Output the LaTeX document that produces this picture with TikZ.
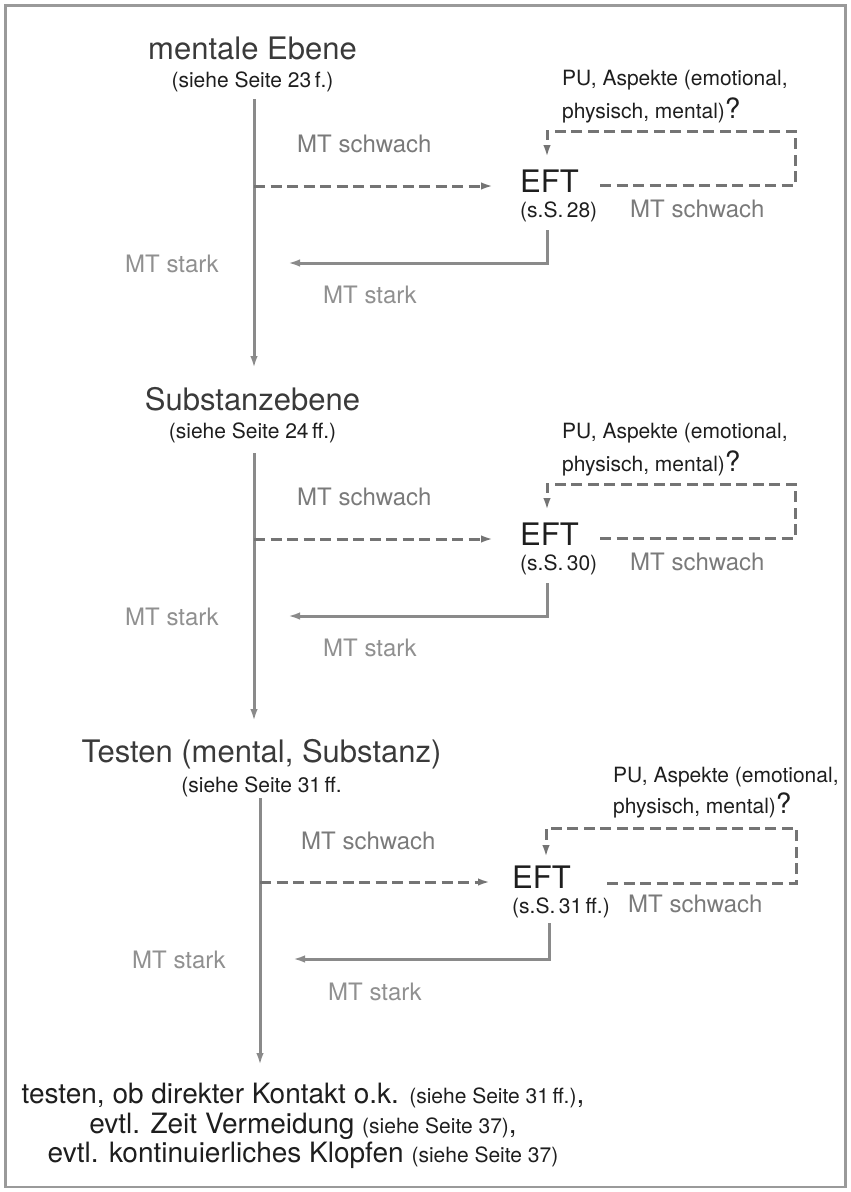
\documentclass[tikz,border=0pt]{standalone}
\usepackage{fontspec}
\setmainfont{TeX Gyre Heros}
\usetikzlibrary{arrows.meta}
\definecolor{headc}{HTML}{3A3A3A}
\definecolor{txtc}{HTML}{1E1E1E}
\definecolor{weakc}{HTML}{7A7A7A}
\definecolor{strongc}{HTML}{909090}
\definecolor{linec}{HTML}{8A8A8A}
\definecolor{dashc}{HTML}{747474}
\definecolor{framec}{HTML}{9A9A9A}
\newcommand{\bigq}{{\fontsize{28}{30}\selectfont ?}}
\newcommand{\refsize}{\fontsize{21}{24}\selectfont}
\tikzset{
  head/.style={anchor=base,inner sep=0pt,text=headc,font=\fontsize{31}{36}\selectfont},
  subref/.style={anchor=base,inner sep=0pt,text=txtc,font=\fontsize{21}{24}\selectfont},
  eftnode/.style={anchor=base west,inner sep=0pt,text=txtc,font=\fontsize{31}{36}\selectfont},
  eftref/.style={anchor=base west,inner sep=0pt,text=txtc,font=\fontsize{21}{24}\selectfont},
  weak/.style={anchor=base west,inner sep=0pt,text=weakc,font=\fontsize{24}{28}\selectfont},
  strong/.style={anchor=base west,inner sep=0pt,text=strongc,font=\fontsize{24}{28}\selectfont},
  note/.style={anchor=base west,inner sep=0pt,text=txtc,font=\fontsize{21}{24}\selectfont},
  final/.style={anchor=base,inner sep=0pt,text=txtc,font=\fontsize{28}{32}\selectfont},
  flow/.style={draw=linec,line width=3pt},
  loopline/.style={draw=dashc,line width=3pt,dash pattern=on 11pt off 5.5pt},
  tip/.style={-{Latex[length=12pt,width=7.5pt]}},
}
\begin{document}
\begin{tikzpicture}[x=1pt,y=-1pt]
\useasboundingbox (0,0) rectangle (851,1192);
\draw[framec,line width=2.6pt] (5.5,5.5) rectangle (845.5,1187);

% ---------- block 1 ----------
\node[head] (h1) at (252.5,59) {mentale Ebene};
\node[subref] (s1) at (252.5,87) {(siehe Seite 23\,f.)};
\node[weak] (w1) at (297,152) {MT schwach};
\node[eftnode] (e1) at (520,192) {EFT};
\node[eftref] (r1) at (520,217) {(s.S.\,28)};
\node[note] (p1a) at (562,85) {PU, Aspekte (emotional,};
\node[note] (p1b) at (562,118) {physisch, mental)\bigq};
\node[weak] (w1r) at (630,217) {MT schwach};
\node[strong] (k1l) at (125,272) {MT stark};
\node[strong] (k1b) at (323,303) {MT stark};
\coordinate (v1a) at (254,99);
\coordinate (j1) at (254,186);
\coordinate (v1b) at (254,368);
\coordinate (l1a) at (600,185);
\coordinate (l1b) at (547,157);
\coordinate (m1a) at (547,230);
\coordinate (m1b) at (288,263);
\draw[flow,tip] (v1a) -- (v1b);
\draw[loopline,tip] (j1) -- (493,186);
\draw[loopline,tip] (l1a) -- (795,185) -- (795,131) -- (547,131) -- (l1b);
\draw[flow,tip] (m1a) -- (547,263) -- (m1b);

% ---------- block 2 ----------
\node[head] (h2) at (252.5,410) {Substanzebene};
\node[subref] (s2) at (252.5,438) {(siehe Seite 24\,ff.)};
\node[weak] (w2) at (297,505) {MT schwach};
\node[eftnode] (e2) at (520,545) {EFT};
\node[eftref] (r2) at (520,570) {(s.S.\,30)};
\node[note] (p2a) at (562,438) {PU, Aspekte (emotional,};
\node[note] (p2b) at (562,471) {physisch, mental)\bigq};
\node[weak] (w2r) at (630,570) {MT schwach};
\node[strong] (k2l) at (125,625) {MT stark};
\node[strong] (k2b) at (323,656) {MT stark};
\coordinate (v2a) at (254,453);
\coordinate (j2) at (254,539);
\coordinate (v2b) at (254,721);
\coordinate (l2a) at (600,538);
\coordinate (l2b) at (547,510);
\coordinate (m2a) at (547,583);
\coordinate (m2b) at (288,616);
\draw[flow,tip] (v2a) -- (v2b);
\draw[loopline,tip] (j2) -- (493,539);
\draw[loopline,tip] (l2a) -- (795,538) -- (795,484) -- (547,484) -- (l2b);
\draw[flow,tip] (m2a) -- (547,616) -- (m2b);

% ---------- block 3 ----------
\node[head] (h3) at (261.5,762) {Testen (mental, Substanz)};
\node[subref] (s3) at (261.5,792) {(siehe Seite 31\,ff.};
\node[weak] (w3) at (301,849) {MT schwach};
\node[eftnode] (e3) at (512,888) {EFT};
\node[eftref] (r3) at (512,913) {(s.S.\,31\,ff.)};
\node[note] (p3a) at (613,782) {PU, Aspekte (emotional,};
\node[note] (p3b) at (613,813) {physisch, mental)\bigq};
\node[weak] (w3r) at (628,912) {MT schwach};
\node[strong] (k3l) at (132,968) {MT stark};
\node[strong] (k3b) at (328,1000) {MT stark};
\coordinate (v3a) at (260,798);
\coordinate (j3) at (260,882);
\coordinate (v3b) at (260,1065);
\coordinate (l3a) at (607,883);
\coordinate (l3b) at (546,857);
\coordinate (m3a) at (549,923);
\coordinate (m3b) at (293,959);
\draw[flow,tip] (v3a) -- (v3b);
\draw[loopline,tip] (j3) -- (490,882);
\draw[loopline,tip] (l3a) -- (796,883) -- (796,828) -- (546,828) -- (l3b);
\draw[flow,tip] (m3a) -- (549,959) -- (m3b);

% ---------- final text ----------
\node[final] (f1) at (303,1103) {testen, ob direkter Kontakt o.k. {\refsize(siehe Seite 31\,ff.)},};
\node[final] (f2) at (303,1133) {evtl. Zeit Vermeidung {\refsize(siehe Seite 37)},};
\node[final] (f3) at (303,1162) {evtl. kontinuierliches Klopfen {\refsize(siehe Seite 37)}};
\end{tikzpicture}
\end{document}
